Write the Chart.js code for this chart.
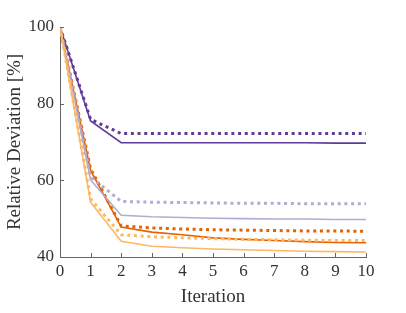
<!DOCTYPE html>
<html lang="en">
<head>
    <meta charset="UTF-8">
    <title>Relative Deviation</title>
    <script src="https://cdn.jsdelivr.net/npm/chart.js@4"></script>
    <style>
        body { margin: 0; background: #fff; }
        #box { width: 406px; height: 313px; }
    </style>
</head>
<body>
    <div id="box"><canvas id="canvas_grafico"></canvas></div>

<script>
    // dados
    var iteracoes = [0, 1, 2, 3, 4, 5, 6, 7, 8, 9, 10];

    var roxo_escuro = [100, 75.5, 69.8, 69.8, 69.8, 69.8, 69.8, 69.8, 69.8, 69.7, 69.7];
    var roxo_escuro_pont = [100, 75.9, 72.2, 72.2, 72.2, 72.2, 72.2, 72.2, 72.2, 72.2, 72.2];
    var roxo_claro = [100, 60.1, 50.9, 50.5, 50.3, 50.1, 50.0, 49.9, 49.9, 49.8, 49.8];
    var roxo_claro_pont = [100, 60.9, 54.5, 54.3, 54.2, 54.1, 54.0, 54.0, 53.9, 53.9, 53.9];
    var laranja_escuro = [100, 62.6, 47.8, 46.5, 45.8, 45.0, 44.6, 44.3, 44.0, 43.8, 43.7];
    var laranja_escuro_pont = [100, 63.0, 48.1, 47.6, 47.3, 47.1, 47.0, 46.9, 46.8, 46.8, 46.7];
    var laranja_claro = [100, 54.3, 44.1, 42.8, 42.4, 42.1, 41.9, 41.7, 41.5, 41.4, 41.3];
    var laranja_claro_pont = [100, 55.2, 45.8, 45.3, 45.0, 44.8, 44.6, 44.5, 44.4, 44.3, 44.3];

    var ticks_y = [40, 60, 80, 100];

    function pontos(valores) {
        return iteracoes.map(function (x, i) { return { x: x, y: valores[i] }; });
    }

    function serie(valores, cor, pontilhado) {
        return {
            data: pontos(valores),
            borderColor: cor,
            backgroundColor: cor,
            borderWidth: pontilhado ? 3 : 1.6,
            borderDash: pontilhado ? [3, 3.7] : [],
            pointRadius: 0,
            tension: 0,
            fill: false
        };
    }

    // ticks para dentro, estilo matlab
    const ticksDentro = {
        id: 'ticksDentro',
        afterDraw(chart) {
            const ctx = chart.ctx;
            const sx = chart.scales.x;
            const sy = chart.scales.y;
            ctx.save();
            ctx.strokeStyle = '#666';
            ctx.lineWidth = 1;
            ctx.beginPath();
            iteracoes.forEach(function (v) {
                const px = Math.round(sx.getPixelForValue(v)) + 0.5;
                ctx.moveTo(px, sy.bottom);
                ctx.lineTo(px, sy.bottom - 4);
            });
            ticks_y.forEach(function (v) {
                const py = Math.round(sy.getPixelForValue(v)) + 0.5;
                ctx.moveTo(sx.left, py);
                ctx.lineTo(sx.left + 4, py);
            });
            ctx.stroke();
            ctx.restore();
        }
    };

    Chart.defaults.font.family = '"Liberation Serif", "DejaVu Serif", serif';
    Chart.defaults.font.size = 17;
    Chart.defaults.color = '#333';

    const ctx = document.getElementById('canvas_grafico').getContext('2d');
    const myChart = new Chart(ctx, {
        type: 'line',
        data: {
            datasets: [
                serie(laranja_claro, '#fdb863', false),
                serie(laranja_claro_pont, '#fdb863', true),
                serie(roxo_claro, '#b2abd2', false),
                serie(roxo_claro_pont, '#b2abd2', true),
                serie(laranja_escuro, '#e66101', false),
                serie(laranja_escuro_pont, '#e66101', true),
                serie(roxo_escuro, '#5e3c99', false),
                serie(roxo_escuro_pont, '#5e3c99', true)
            ]
        },
        options: {
            responsive: true,
            maintainAspectRatio: false,
            animation: false,
            layout: { padding: { top: 27, right: 40, bottom: 0, left: 0 } },
            plugins: { legend: { display: false }, tooltip: { enabled: false } },
            scales: {
                x: {
                    type: 'linear',
                    min: 0,
                    max: 10,
                    ticks: { stepSize: 1, padding: 4, maxRotation: 0 },
                    grid: { display: false, drawTicks: false },
                    border: { color: '#666', width: 1 },
                    title: { display: true, text: 'Iteration', font: { size: 19 }, padding: { top: 0, bottom: 5 } },
                    afterFit: function (s) { s.height = 56; }
                },
                y: {
                    min: 40,
                    max: 100,
                    afterBuildTicks: function (s) {
                        s.ticks = ticks_y.map(function (v) { return { value: v }; });
                    },
                    ticks: { padding: 6 },
                    grid: { display: false, drawTicks: false },
                    border: { color: '#666', width: 1 },
                    title: { display: true, text: 'Relative Deviation [%]', font: { size: 19 }, padding: { top: 4, bottom: 0 } },
                    afterFit: function (s) { s.width = 60; }
                }
            }
        },
        plugins: [ticksDentro]
    });
</script>
</body>
</html>
